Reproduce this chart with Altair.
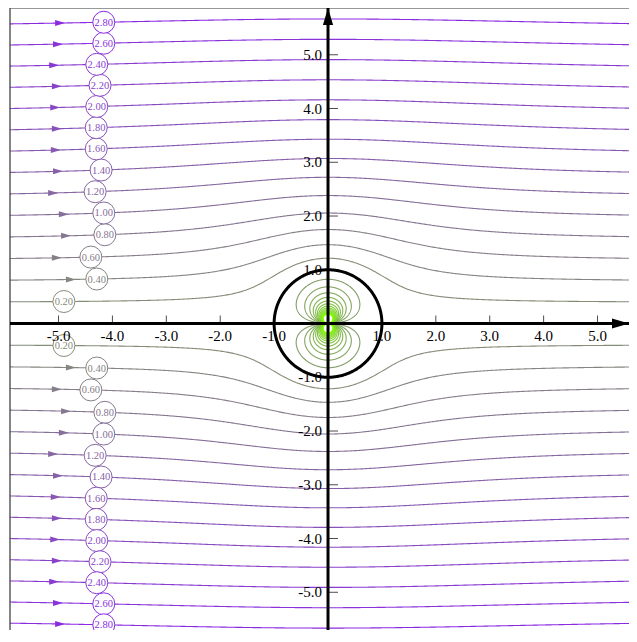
import altair as alt
import numpy as np
import pandas as pd

# ---- values -------------------------------------------------------------
levels = [0.2, 0.4, 0.6, 0.8, 1.0, 1.2, 1.4, 1.6, 1.8, 2.0, 2.2, 2.4, 2.6, 2.8]
level_labels = ["0.20", "0.40", "0.60", "0.80", "1.00", "1.20", "1.40",
                "1.60", "1.80", "2.00", "2.20", "2.40", "2.60", "2.80"]
label_x = [-4.90, -4.29, -4.40, -4.14, -4.16, -4.32, -4.21,
           -4.30, -4.30, -4.29, -4.23, -4.29, -4.16, -4.16]
arrow_x = [None, -4.77, -5.03, -4.86, -4.90, -5.10, -5.01,
           -5.05, -5.03, -5.06, -5.03, -5.08, -5.01, -4.97]
flow_speed = 0.51          # free stream speed U
cylinder_radius = 1.0
x_ticks = [-5, -4, -3, -2, -1, 1, 2, 3, 4, 5]
y_ticks = [-5, -4, -3, -2, -1, 1, 2, 3, 4, 5]
x_domain = [-5.9, 5.584]
y_domain = [-5.702, 5.87]
W = 619
H = 622
SERIF = "Liberation Serif"

# ---- stream function psi = U*y*(1 - R^2/r^2) ----------------------------
R2 = cylinder_radius ** 2


def stream_y(x, k):
    x = np.atleast_1d(np.asarray(x, float))
    lo = np.sqrt(np.clip(R2 - x ** 2, 0, None)) + 1e-9
    hi = np.full_like(x, k + 2.0)
    for _ in range(60):
        mid = (lo + hi) / 2
        f = mid * (1 - R2 / (x ** 2 + mid ** 2)) - k
        lo = np.where(f < 0, mid, lo)
        hi = np.where(f >= 0, mid, hi)
    return (lo + hi) / 2


rows = []
xs = np.linspace(x_domain[0], x_domain[1], 500)
theta = np.linspace(0, np.pi, 361)
for c in levels:
    k = c / flow_speed
    ys = stream_y(xs, k)
    sn = np.sin(theta)
    rin = cylinder_radius * 2 * sn / (k + np.sqrt(k ** 2 + 4 * sn ** 2))
    for half in (1, -1):
        lid = f"o{half}_{c}"
        for i, (xv, yv) in enumerate(zip(xs, ys)):
            rows.append({"id": lid, "i": i, "x": xv, "y": half * yv, "s": c})
        lid = f"i{half}_{c}"
        for i, (r, t) in enumerate(zip(rin, theta)):
            rows.append({"id": lid, "i": i, "x": r * np.cos(t), "y": half * r * np.sin(t), "s": -c})
lines_df = pd.DataFrame(rows)

lab_rows, arr_rows = [], []
for c, txt, lx, ax in zip(levels, level_labels, label_x, arrow_x):
    k = c / flow_speed
    ly = float(stream_y(lx, k)[0])
    for half in (1, -1):
        lab_rows.append({"x": lx, "y": half * ly, "t": txt, "s": c})
        if ax is not None:
            ay = float(stream_y(ax, k)[0])
            arr_rows.append({"x": ax, "y": half * ay, "s": c})
labels_df = pd.DataFrame(lab_rows)
arrows_df = pd.DataFrame(arr_rows)

ang = np.linspace(0, 2 * np.pi, 361)
cyl_df = pd.DataFrame({"x": cylinder_radius * np.cos(ang),
                       "y": cylinder_radius * np.sin(ang),
                       "i": np.arange(len(ang))})

xsc = alt.Scale(domain=x_domain, nice=False, zero=False)
ysc = alt.Scale(domain=y_domain, nice=False, zero=False)
X = alt.X("x:Q", scale=xsc, axis=None)
Y = alt.Y("y:Q", scale=ysc, axis=None)
cscale = alt.Scale(domain=[-2.8, 2.8], range=["#7fff00", "#8a2be2"], interpolate="rgb")

stream = alt.Chart(lines_df).mark_line(strokeWidth=1.1, clip=True).encode(
    x=X, y=Y, color=alt.Color("s:Q", scale=cscale, legend=None),
    detail="id:N", order="i:Q")

cyl = alt.Chart(cyl_df).mark_line(color="black", strokeWidth=3, clip=True).encode(
    x=X, y=Y, order="i:Q")

# frame: only the top and left edges are inside the window in the reference
frame_top = alt.Chart(pd.DataFrame({"x": [x_domain[0]], "x2": [x_domain[1]], "y": [y_domain[1]]})).mark_rule(
    color="#333", strokeWidth=1.2).encode(x=X, x2="x2:Q", y=Y)
frame_left = alt.Chart(pd.DataFrame({"x": [x_domain[0]], "y": [y_domain[0]], "y2": [y_domain[1]]})).mark_rule(
    color="#333", strokeWidth=1.2).encode(x=X, y=Y, y2="y2:Q")

xaxis_line = alt.Chart(pd.DataFrame({"x": [x_domain[0]], "x2": [x_domain[1]], "y": [0]})).mark_rule(
    color="black", strokeWidth=3).encode(x=X, x2="x2:Q", y=Y)
yaxis_line = alt.Chart(pd.DataFrame({"x": [0], "y": [y_domain[0]], "y2": [y_domain[1]]})).mark_rule(
    color="black", strokeWidth=3).encode(x=X, y=Y, y2="y2:Q")

xarrow = alt.Chart(pd.DataFrame({"x": [x_domain[1]], "y": [0]})).mark_point(
    shape="M-1,-0.6L1,0L-1,0.6Z", size=289, filled=True, color="black", opacity=1,
    xOffset=-8.5).encode(x=X, y=Y)
yarrow = alt.Chart(pd.DataFrame({"x": [0], "y": [y_domain[1]]})).mark_point(
    shape="M0,-1L0.6,1L-0.6,1Z", size=289, filled=True, color="black", opacity=1,
    yOffset=8.5).encode(x=X, y=Y)

xt_df = pd.DataFrame({"x": x_ticks, "y": [0] * len(x_ticks),
                      "t": [f"{v:.1f}" for v in x_ticks]})
yt_df = pd.DataFrame({"x": [0] * len(y_ticks), "y": y_ticks,
                      "t": [f"{v:.1f}" for v in y_ticks]})
xticks = alt.Chart(xt_df).mark_tick(orient="vertical", size=8, thickness=1, color="black",
                                    yOffset=-4).encode(x=X, y=Y)
yticks = alt.Chart(yt_df).mark_tick(orient="horizontal", size=10, thickness=1, color="black",
                                    xOffset=5).encode(x=X, y=Y)
xtl = alt.Chart(xt_df).mark_text(font=SERIF, fontSize=15, align="center", baseline="alphabetic",
                                 dy=17, color="black").encode(x=X, y=Y, text="t:N")
ytl = alt.Chart(yt_df).mark_text(font=SERIF, fontSize=15, align="right", baseline="alphabetic",
                                 dx=-6, dy=5, color="black").encode(x=X, y=Y, text="t:N")

lab_circ = alt.Chart(labels_df).mark_point(shape="circle", size=484, filled=True, fill="white",
                                           fillOpacity=1, opacity=1, strokeWidth=1).encode(
    x=X, y=Y, stroke=alt.Stroke("s:Q", scale=cscale, legend=None))
lab_txt = alt.Chart(labels_df).mark_text(font=SERIF, fontSize=10.5, align="center",
                                         baseline="middle", dy=0.5).encode(
    x=X, y=Y, text="t:N", color=alt.Color("s:Q", scale=cscale, legend=None))
arrows = alt.Chart(arrows_df).mark_point(shape="M-1,-0.6L1,0L-1,0.6Z", size=100, filled=True,
                                         opacity=1).encode(
    x=X, y=Y, color=alt.Color("s:Q", scale=cscale, legend=None))

chart = alt.layer(stream, cyl, lab_circ, lab_txt, arrows, frame_top, frame_left,
                  xaxis_line, yaxis_line, xticks, yticks, xtl, ytl, xarrow, yarrow).properties(
    width=W, height=H, padding={"left": 2, "top": 0, "right": 0, "bottom": 0},
    autosize="none", background="white"
).configure_view(strokeWidth=0)

chart.save("out.html", embed_options={"renderer": "svg", "actions": False})
